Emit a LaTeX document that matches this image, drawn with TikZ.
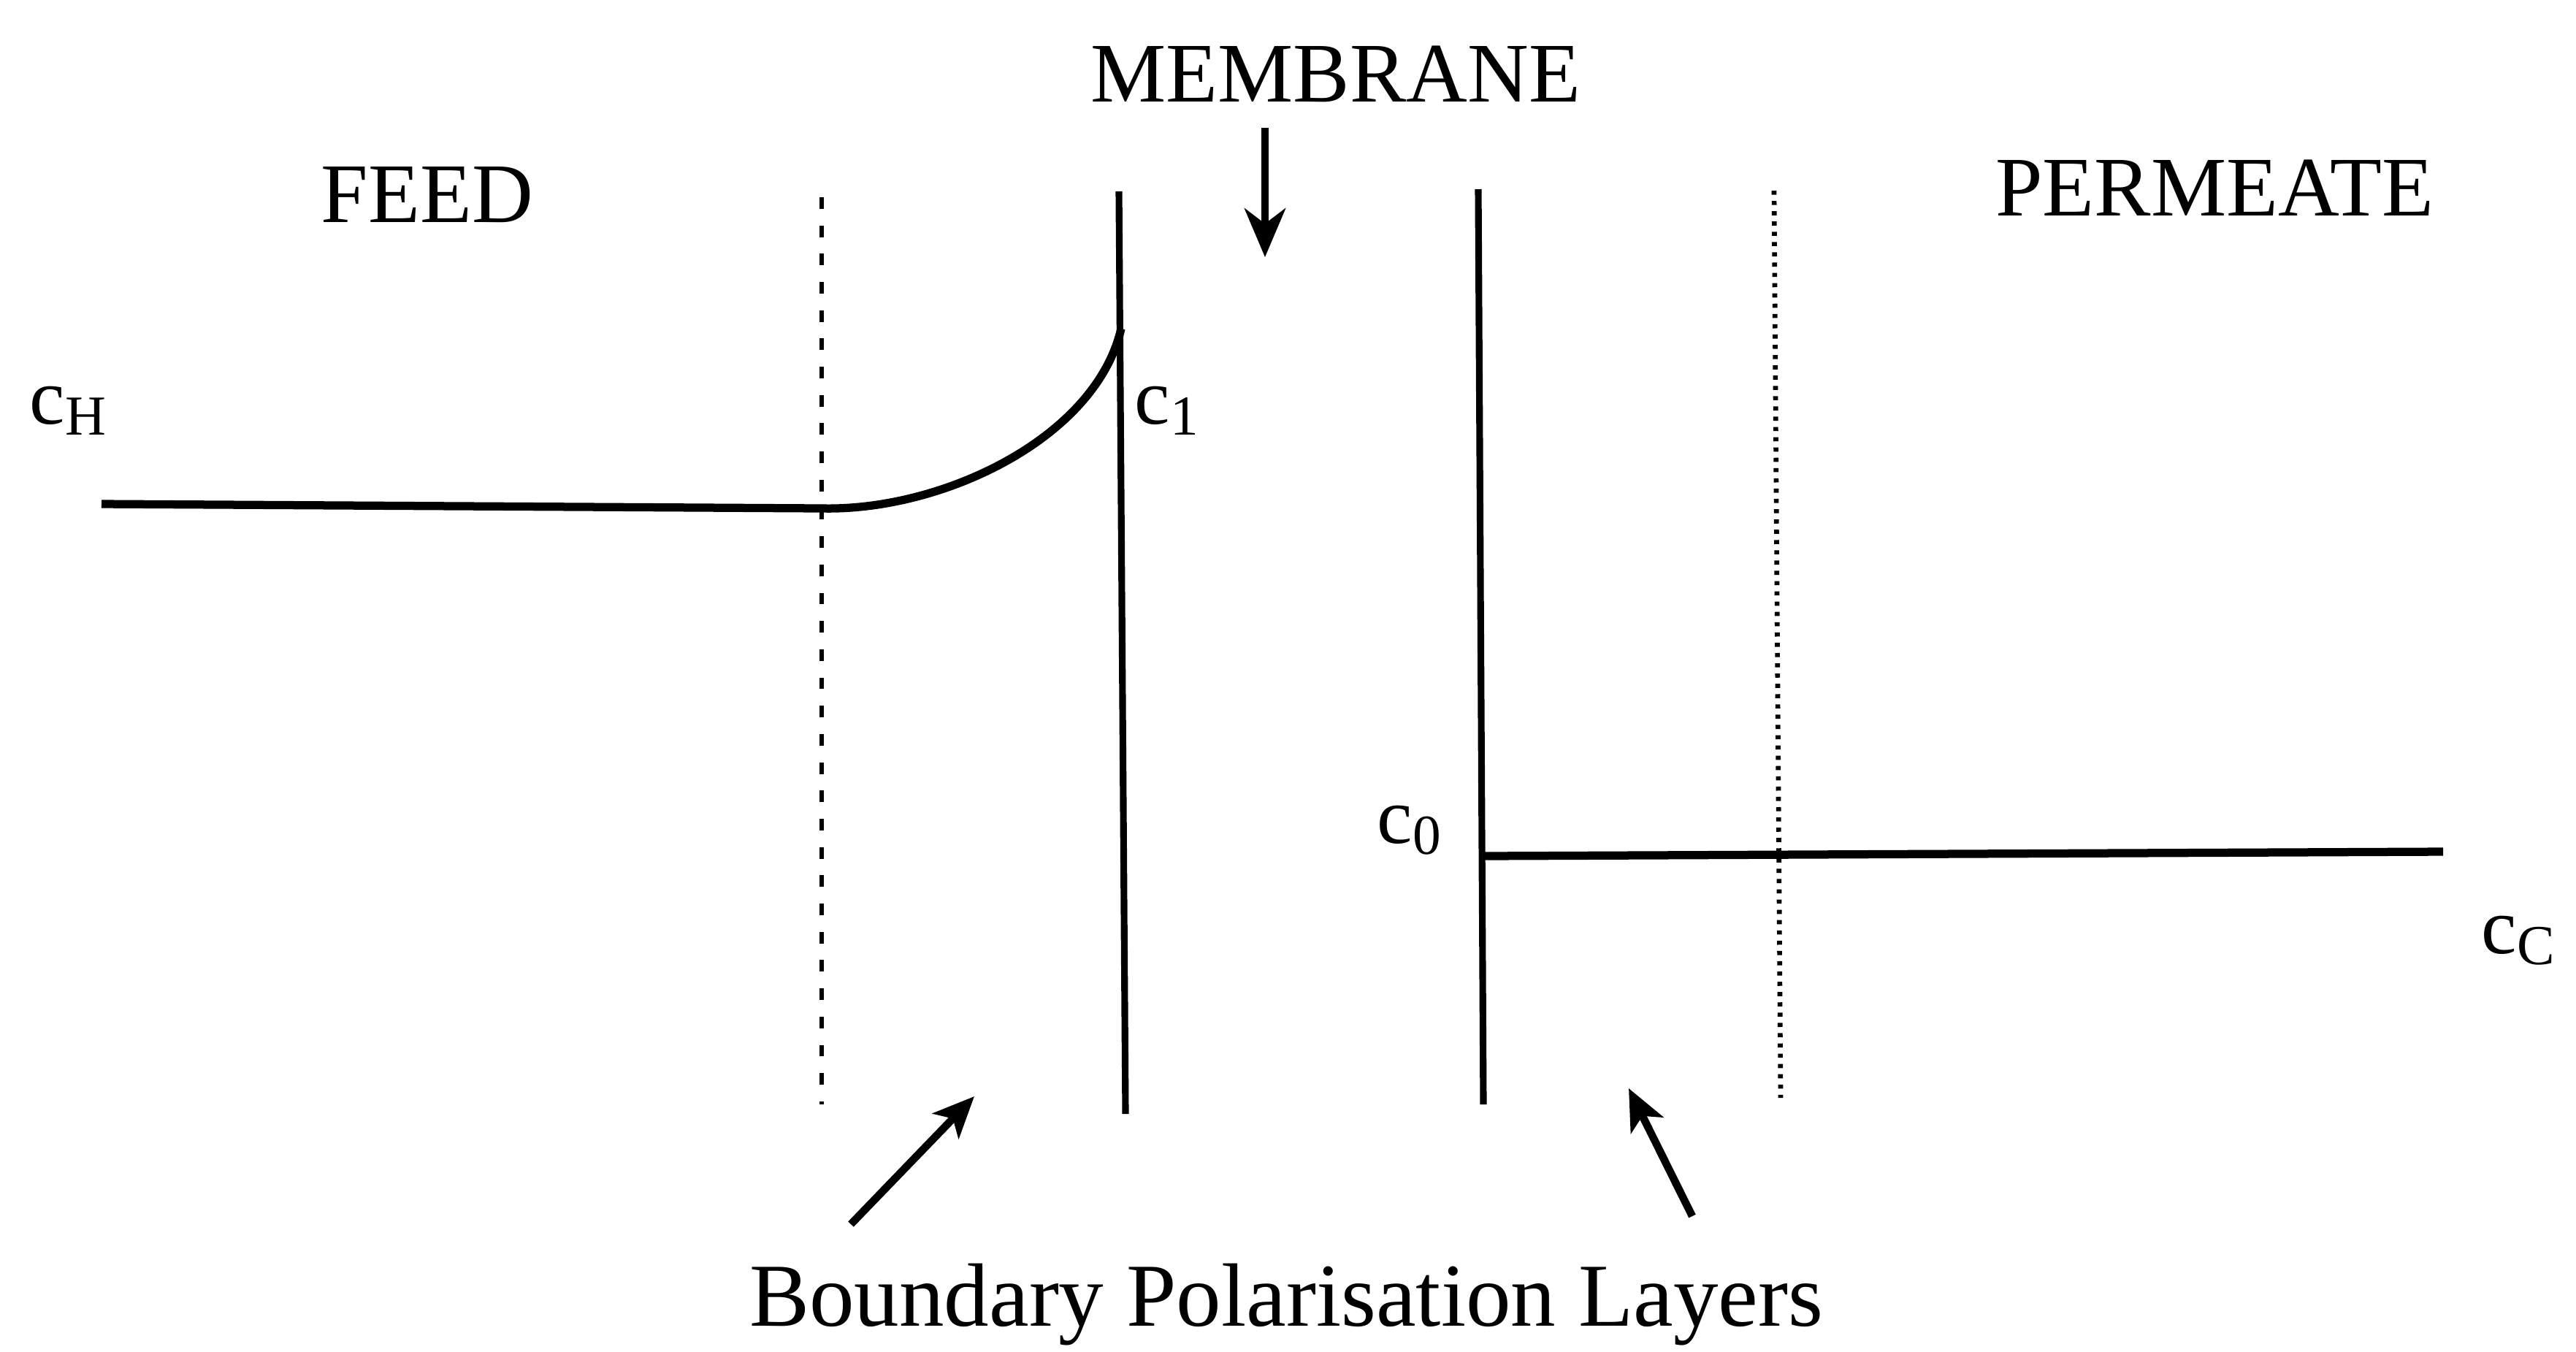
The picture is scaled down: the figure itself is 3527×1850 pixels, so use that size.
\documentclass[tikz,border=0pt]{standalone}
\usepackage{fontspec}
\setmainfont{Liberation Serif}
\usetikzlibrary{arrows.meta}
\newcommand{\conc}[1]{c\raisebox{-0.14em}{\fontsize{22}{22}\selectfont #1}}
\tikzset{
  lbl/.style={inner sep=0pt, anchor=base, font=\fontsize{33}{40}\selectfont},
  clbl/.style={inner sep=0pt, anchor=base west, font=\fontsize{31}{36}\selectfont},
  wall/.style={line width=2.6pt},
  profile/.style={line width=3.2pt},
  layerL/.style={line width=1.9pt, dash pattern=on 4.5pt off 6.5pt},
  layerR/.style={line width=1.9pt, dash pattern=on 1.6pt off 2.4pt},
  ptr/.style={line width=2.6pt, -{Stealth[length=19pt,width=16pt,inset=6pt]}},
  ptrs/.style={line width=3pt, -{Stealth[length=16pt,width=14pt,inset=4pt]}}
}
\begin{document}
\begin{tikzpicture}[x=0.01cm,y=-0.01cm]
\useasboundingbox (0,0) rectangle (3527,1850);
% walls of membrane
\coordinate (mlt) at (1532,262);
\coordinate (mlb) at (1541,1525);
\coordinate (mrt) at (2024,259);
\coordinate (mrb) at (2031,1512);
\draw[wall] (mlt) -- (mlb);
\draw[wall] (mrt) -- (mrb);
% boundary layer limits
\coordinate (dlt) at (1125,270);
\coordinate (dlb) at (1125,1512);
\coordinate (drt) at (2429,261);
\coordinate (drb) at (2438,1503);
\draw[layerL] (dlt) -- (dlb);
\draw[layerR] (drt) -- (drb);
% concentration profile
\coordinate (f0) at (139,690);
\coordinate (f1) at (1125,696);
\coordinate (f2) at (1535,450);
\draw[profile] (f0) -- (f1) .. controls (1290,700) and (1500,600) .. (f2);
\coordinate (p0) at (2031,1172);
\coordinate (p1) at (3345,1166);
\draw[profile] (p0) -- (p1);
% labels
\node[lbl] (feed) at (585,304) {FEED};
\node[lbl] (memb) at (1829,139) {MEMBRANE};
\node[lbl] (perm) at (3032,295) {PERMEATE};
\node[clbl] (cH) at (40,580) {\conc{H}};
\node[clbl] (c1) at (1553,580) {\conc{1}};
\node[clbl] (c0) at (1885,1154) {\conc{0}};
\node[clbl] (cC) at (3397,1305) {\conc{C}};
\node[lbl, font=\fontsize{35}{42}\selectfont] (bpl) at (1761,1815) {Boundary Polarisation Layers};
% pointers
\coordinate (ma) at (1732,175);
\coordinate (mb) at (1732,352);
\draw[ptr] (ma) -- (mb);
\coordinate (la) at (1165,1676);
\coordinate (lb) at (1334,1501);
\draw[ptrs] (la) -- (lb);
\coordinate (ra) at (2317,1665);
\coordinate (rb) at (2230,1490);
\draw[ptrs] (ra) -- (rb);
\end{tikzpicture}
\end{document}
